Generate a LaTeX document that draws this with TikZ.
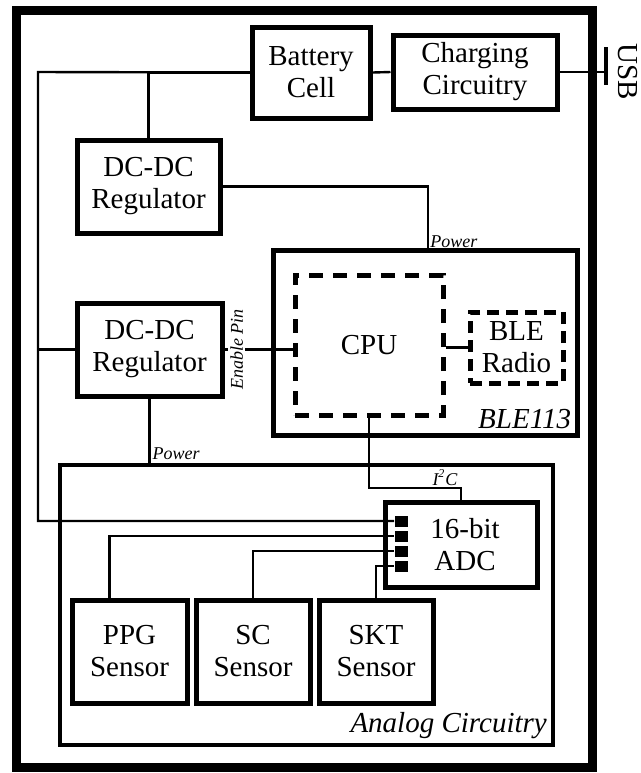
\documentclass[tikz,border=0pt]{standalone}
\usepackage{fontspec}
\setmainfont{Liberation Serif}
\usetikzlibrary{positioning,calc}
\tikzset{
  box/.style={draw, line width=2.5pt, align=center, inner sep=0pt,
              font=\fontsize{14.5}{16}\selectfont},
  dashbox/.style={box, dash pattern=on 7pt off 5pt},
  wire/.style={line width=1.2pt},
  lbl/.style={font=\fontsize{9}{10}\selectfont\itshape, inner sep=1pt},
  biglbl/.style={font=\fontsize{14.5}{16}\selectfont\itshape, inner sep=4pt},
  pin/.style={fill=black, minimum width=6.5pt, minimum height=5.5pt, inner sep=0pt}
}
\begin{document}
\begin{tikzpicture}[x=0.5pt,y=-0.5pt]
  \useasboundingbox (0,0) rectangle (641,773);
  % outer case
  \draw[line width=4.5pt] (16,10) rectangle (592,767);

  % containers
  \node[box, minimum width=152pt, minimum height=92.5pt] (ble) at (425,342.5) {};
  \node[box, line width=2.2pt, minimum width=246.5pt, minimum height=140pt] (analog) at (306.5,605) {};
  \node[biglbl, anchor=south east] at (ble.south east) {BLE113};
  \node[biglbl, anchor=south east] at (analog.south east) {Analog Circuitry};

  % power path
  \node[box, minimum width=59pt, minimum height=45.5pt] (batt) at (311,72.5) {Battery\\Cell};
  \node[box, minimum width=82pt, minimum height=37pt] (charge) at (475,72) {Charging\\Circuitry};
  \node[box, minimum width=71.5pt, minimum height=46.5pt] (reg1) at (148.5,186.5) {DC-DC\\Regulator};
  \node[box, minimum width=72.5pt, minimum height=46.5pt] (reg2) at (149.5,349.5) {DC-DC\\Regulator};

  % BLE113 module
  \node[dashbox, minimum width=74pt, minimum height=70pt] (cpu) at (369,345) {CPU};
  \node[dashbox, dash pattern=on 6pt off 3.5pt, minimum width=46.5pt, minimum height=35.5pt] (radio) at (516.5,347.5) {BLE\\Radio};

  % analog front end
  \node[box, minimum width=76pt, minimum height=42.5pt] (adc) at (461,544.5) {\hspace*{4pt}16-bit\\\hspace*{4pt}ADC};
  \foreach \y [count=\i] in {521,536,551,566}
    \node[pin] (pin\i) at (401,\y) {};
  \node[box, minimum width=57.5pt, minimum height=51.5pt] (ppg) at (129.5,651.5) {PPG\\Sensor};
  \node[box, minimum width=57pt, minimum height=51.5pt] (sc) at (253,651.5) {SC\\Sensor};
  \node[box, minimum width=57pt, minimum height=51.5pt] (skt) at (376,651.5) {SKT\\Sensor};

  % named bends
  \coordinate (busTL) at (38,72);
  \coordinate (busBL) at (38,521);
  \coordinate (pwr1) at (428,250);
  \coordinate (i2cbend) at (461,488);
  \coordinate (usb) at (606,72);

  % wiring
  \draw[wire] (batt.west) -- (busTL) -- (busBL) -- (pin1.west);
  \draw[wire] (reg1.north) |- (batt.west);
  \draw[wire] (batt.east) -- (charge.west);
  \draw[wire] (charge.east) -- (usb);
  \draw[line width=2pt] ($(usb)+(0,-25)$) -- ($(usb)+(0,13)$);
  \node[font=\fontsize{14.5}{16}\selectfont, rotate=-90] (usblbl) at (628,72) {USB};
  \draw[wire] (reg1.east) -| (pwr1);
  \node[lbl, anchor=south west] at (pwr1) {Power};
  \draw[wire] (reg2.west) -- (reg2.west -| busTL);
  \draw[wire] (reg2.east) -- (reg2.east -| cpu.west)
    node[pos=0.18, lbl, fill=white, rotate=90] {Enable Pin};
  \draw[wire] (cpu.east |- radio.west) -- (radio.west);
  \draw[wire] (reg2.south) -- (reg2.south |- analog.north)
    node[lbl, anchor=south west] {Power};
  \draw[wire] (cpu.south) |- (i2cbend) -- (adc.north);
  \node[lbl, above] at (445,488) {I\textsuperscript{2}C};
  \draw[wire] ([xshift=-10pt]ppg.north) |- (pin2.west);
  \draw[wire] (sc.north) |- (pin3.west);
  \draw[wire] (skt.north) |- (pin4.west);
\end{tikzpicture}
\end{document}
